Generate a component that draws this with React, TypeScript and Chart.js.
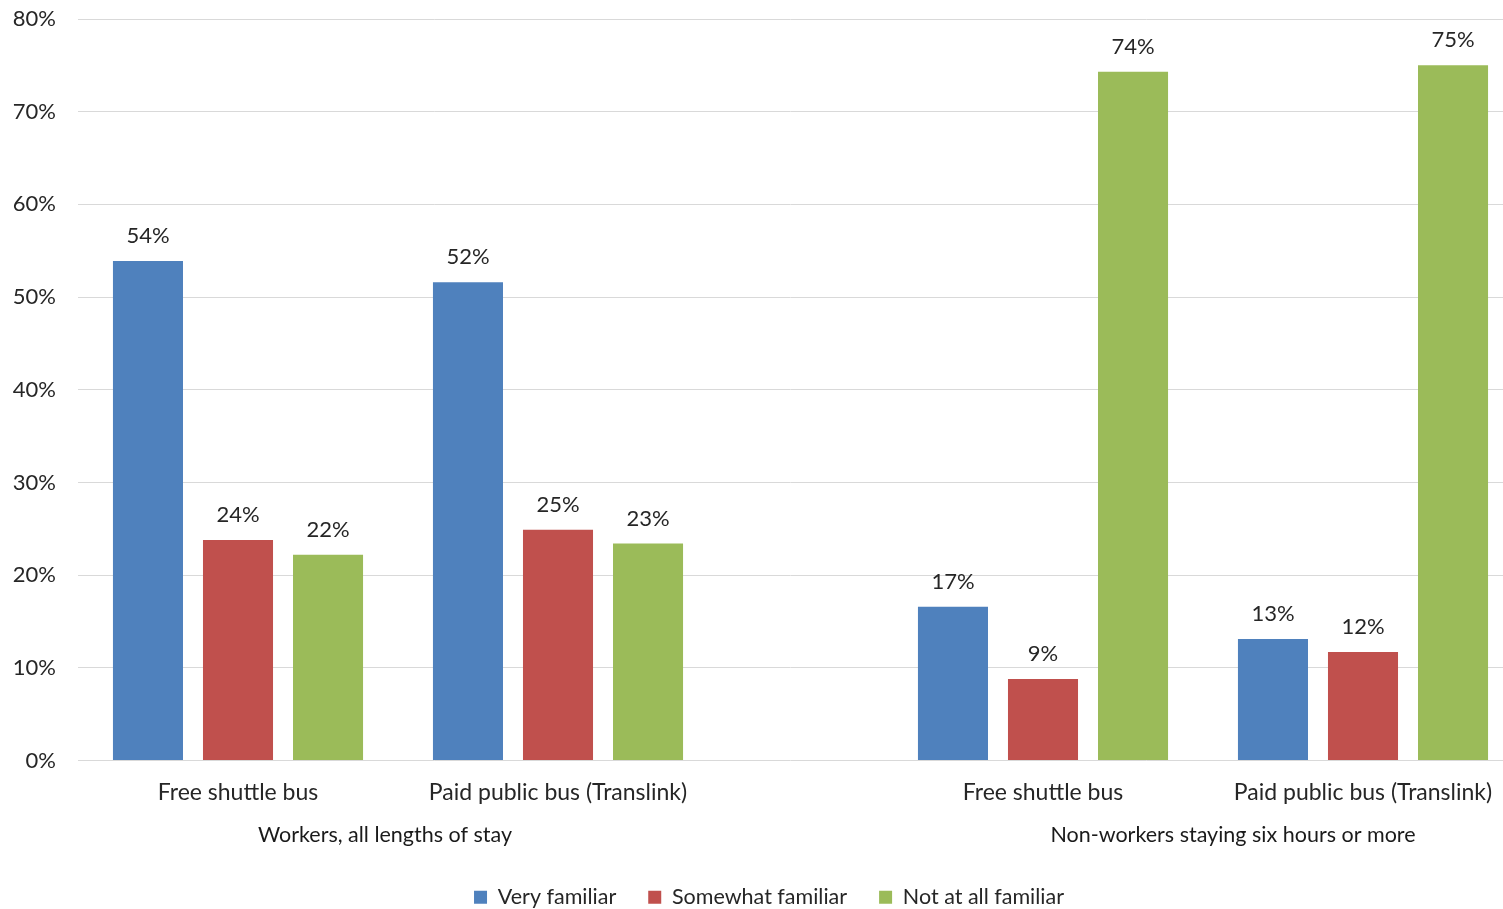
import React, { useEffect, useRef } from "react";
import { Chart, registerables } from "chart.js";

Chart.register(...registerables);

const categories = ["Free shuttle bus", "Paid public bus (Translink)", "Free shuttle bus", "Paid public bus (Translink)"];
const categoryPositions = [160, 480, 965, 1285];
const groupLabels = ["Workers, all lengths of stay", "Non-workers staying six hours or more"];
const groupPositions = [307, 1155];
const seriesNames = ["Very familiar", "Somewhat familiar", "Not at all familiar"];
const veryFamiliar = [53.9, 51.6, 16.6, 13.1];
const somewhatFamiliar = [23.8, 24.9, 8.8, 11.7];
const notAtAllFamiliar = [22.2, 23.4, 74.3, 75.0];
const colors = ["#4f81bd", "#c0504d", "#9bbb59"];
const yTicks = [0, 10, 20, 30, 40, 50, 60, 70, 80];

const FONT = "Lato, 'Open Sans', sans-serif";
const TEXT = "#262626";

const dataLabelPlugin = {
  id: "dataLabels",
  afterDatasetsDraw(chart: any) {
    const ctx = chart.ctx;
    ctx.save();
    ctx.font = `22px ${FONT}`;
    ctx.fillStyle = TEXT;
    ctx.textAlign = "center";
    ctx.textBaseline = "middle";
    chart.data.datasets.forEach((ds: any, di: number) => {
      const meta = chart.getDatasetMeta(di);
      meta.data.forEach((el: any, i: number) => {
        const v = ds.data[i].y;
        ctx.fillText(Math.round(v) + "%", el.x, el.y - 25);
      });
    });
    ctx.restore();
  },
};

const legendShiftPlugin = {
  id: "legendShift",
  afterLayout(chart: any) {
    if (chart.legend) chart.legend.left += 35;
  },
};

export default function App() {
  const ref = useRef<HTMLCanvasElement>(null);
  useEffect(() => {
    if (!ref.current) return;
    const series = [veryFamiliar, somewhatFamiliar, notAtAllFamiliar];
    const chart = new Chart(ref.current, {
      type: "bar",
      data: {
        datasets: series.map((vals, si) => ({
          label: seriesNames[si],
          data: vals.map((v, i) => ({ x: categoryPositions[i], y: v })),
          backgroundColor: colors[si],
          borderWidth: 0,
          categoryPercentage: 0.844,
          barPercentage: 0.778,
        })),
      },
      options: {
        responsive: true,
        maintainAspectRatio: false,
        animation: false,
        layout: { padding: { top: 19, right: 0, left: 0, bottom: -9 } },
        plugins: {
          legend: {
            position: "bottom",
            labels: {
              boxWidth: 13,
              boxHeight: 13,
              padding: 32,
              color: TEXT,
              font: { family: FONT, size: 21.5 },
            },
          },
          tooltip: { enabled: false },
        },
        scales: {
          x: {
            type: "linear",
            min: 0,
            max: 1425,
            offset: false,
            position: "bottom",
            grid: { display: false },
            border: { display: false },
            afterBuildTicks: (axis: any) => {
              axis.ticks = categoryPositions.map((v) => ({ value: v }));
            },
            afterFit: (axis: any) => {
              axis.height = 52;
            },
            ticks: {
              autoSkip: false,
              maxRotation: 0,
              padding: 10,
              color: TEXT,
              font: { family: FONT, size: 23 },
              callback: (value: any) => {
                const idx = categoryPositions.indexOf(Number(value));
                return idx >= 0 ? categories[idx] : "";
              },
            },
          },
          x2: {
            type: "linear",
            min: 0,
            max: 1425,
            offset: false,
            position: "bottom",
            grid: { display: false },
            border: { display: false },
            afterBuildTicks: (axis: any) => {
              axis.ticks = groupPositions.map((v) => ({ value: v }));
            },
            afterFit: (axis: any) => {
              axis.height = 42;
            },
            ticks: {
              autoSkip: false,
              maxRotation: 0,
              padding: 2,
              color: "#1a1a1a",
              font: { family: FONT, size: 21.5 },
              callback: (value: any) => {
                const idx = groupPositions.indexOf(Number(value));
                return idx >= 0 ? groupLabels[idx] : "";
              },
            },
          },
          y: {
            min: 0,
            max: 80,
            grid: { color: "#d9d9d9", lineWidth: 1, drawTicks: false },
            border: { display: false },
            afterBuildTicks: (axis: any) => {
              axis.ticks = yTicks.map((v) => ({ value: v }));
            },
            afterFit: (axis: any) => {
              axis.width = 78;
              axis.paddingTop = 0;
              axis.paddingBottom = 0;
            },
            ticks: {
              padding: 22,
              color: TEXT,
              font: { family: FONT, size: 22 },
              callback: (value: any) => value + "%",
            },
          },
        },
      },
      plugins: [dataLabelPlugin, legendShiftPlugin],
    });
    return () => chart.destroy();
  }, []);
  return (
    <div style={{ position: "fixed", left: 0, top: 0, width: 1503, height: 909, background: "#fff" }}>
      <canvas ref={ref} />
    </div>
  );
}
